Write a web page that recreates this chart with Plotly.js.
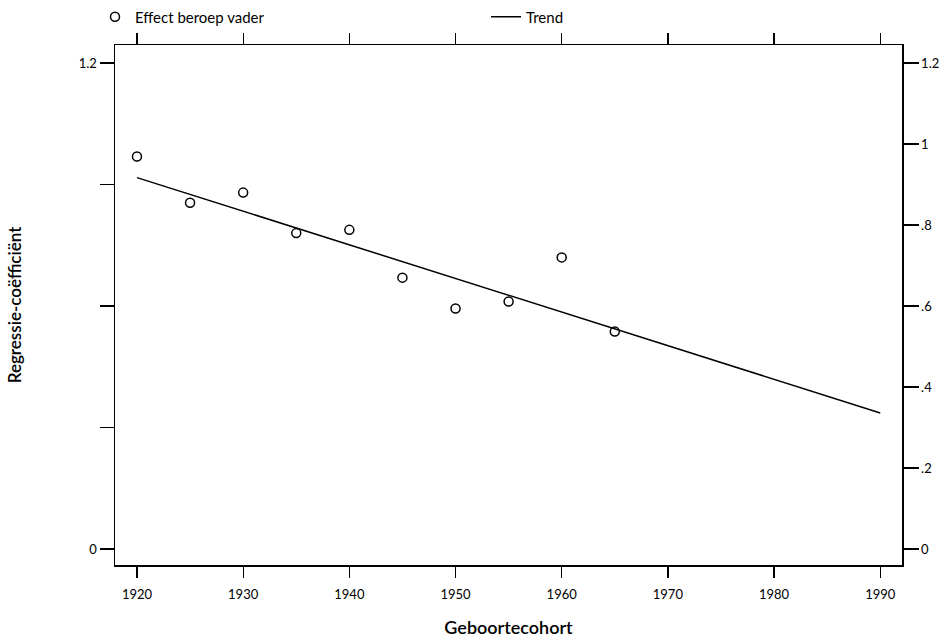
<!DOCTYPE html>
<html>
<head>
<meta charset="utf-8">
<script src="https://cdn.plot.ly/plotly-3.0.1.min.js"></script>
<style>
html,body{margin:0;padding:0;background:#fff;}
#chart{width:949px;height:643px;}
</style>
</head>
<body>
<div id="chart"></div>
<script>
// Data
var cohorts = [1920, 1925, 1930, 1935, 1940, 1945, 1950, 1955, 1960, 1965];
var effectFather = [0.969, 0.855, 0.880, 0.780, 0.788, 0.670, 0.594, 0.611, 0.720, 0.537];
var trendYears = [1920, 1990];
var trendValues = [0.917, 0.336];

var xTicks = [1920, 1930, 1940, 1950, 1960, 1970, 1980, 1990];
var leftTickVals = [0, 0.3, 0.6, 0.9, 1.2];
var leftTickText = ['0', '', '', '', '1.2'];
var rightTickVals = [0, 0.2, 0.4, 0.6, 0.8, 1.0, 1.2];
var rightTickText = ['0', '.2', '.4', '.6', '.8', '1', '1.2'];

var FONT = 'Lato, "Open Sans", sans-serif';
var yRange = [-0.0395, 1.2444];

var traces = [
  {
    x: cohorts, y: effectFather, name: 'Effect beroep vader',
    type: 'scatter', mode: 'markers',
    marker: {symbol: 'circle-open', size: 9, color: '#000', line: {width: 1.5, color: '#000'}},
    yaxis: 'y'
  },
  {
    x: trendYears, y: trendValues, name: 'Trend',
    type: 'scatter', mode: 'lines',
    line: {color: '#000', width: 1.5},
    yaxis: 'y2'
  }
];

var layout = {
  width: 949, height: 643,
  paper_bgcolor: '#fff', plot_bgcolor: '#fff',
  margin: {l: 115, r: 47, t: 45, b: 78},
  font: {family: FONT, size: 13, color: '#000'},
  showlegend: true,
  legend: {
    orientation: 'h', xref: 'container', yref: 'container',
    x: 95/949, y: 1 - 17/643, xanchor: 'left', yanchor: 'middle',
    entrywidth: 346, entrywidthmode: 'pixels',
    font: {family: FONT, size: 15, color: '#000'},
    bgcolor: 'rgba(0,0,0,0)', borderwidth: 0
  },
  xaxis: {
    range: [1917.93, 1992.05],
    tickvals: xTicks, ticktext: xTicks.map(String),
    ticks: 'outside', ticklen: 11, tickwidth: 1.3, tickcolor: '#000',
    ticklabelstandoff: 6,
    showline: true, linecolor: '#000', linewidth: 1.5, mirror: 'ticks',
    showgrid: false, zeroline: false,
    tickfont: {family: FONT, size: 13, color: '#000'},
    title: {text: 'Geboortecohort', font: {family: FONT, size: 18, color: '#000', weight: 600}, standoff: 20},
    automargin: false
  },
  yaxis: {
    range: yRange,
    tickvals: leftTickVals, ticktext: leftTickText,
    ticks: 'outside', ticklen: 14, tickwidth: 1.3, tickcolor: '#000',
    showline: true, linecolor: '#000', linewidth: 1.5,
    showgrid: false, zeroline: false,
    tickfont: {family: FONT, size: 13, color: '#000'},
    title: {text: 'Regressie-coëfficiënt', font: {family: FONT, size: 17, color: '#000', weight: 600}, standoff: 53},
    automargin: false
  },
  yaxis2: {
    range: yRange, overlaying: 'y', side: 'right',
    tickvals: rightTickVals, ticktext: rightTickText,
    ticks: 'outside', ticklen: 15, tickwidth: 1.3, tickcolor: '#000',
    showline: true, linecolor: '#000', linewidth: 1.5,
    showgrid: false, zeroline: false,
    tickfont: {family: FONT, size: 13, color: '#000'},
    automargin: false
  }
};

Plotly.newPlot('chart', traces, layout, {displayModeBar: false, staticPlot: true});
</script>
</body>
</html>
